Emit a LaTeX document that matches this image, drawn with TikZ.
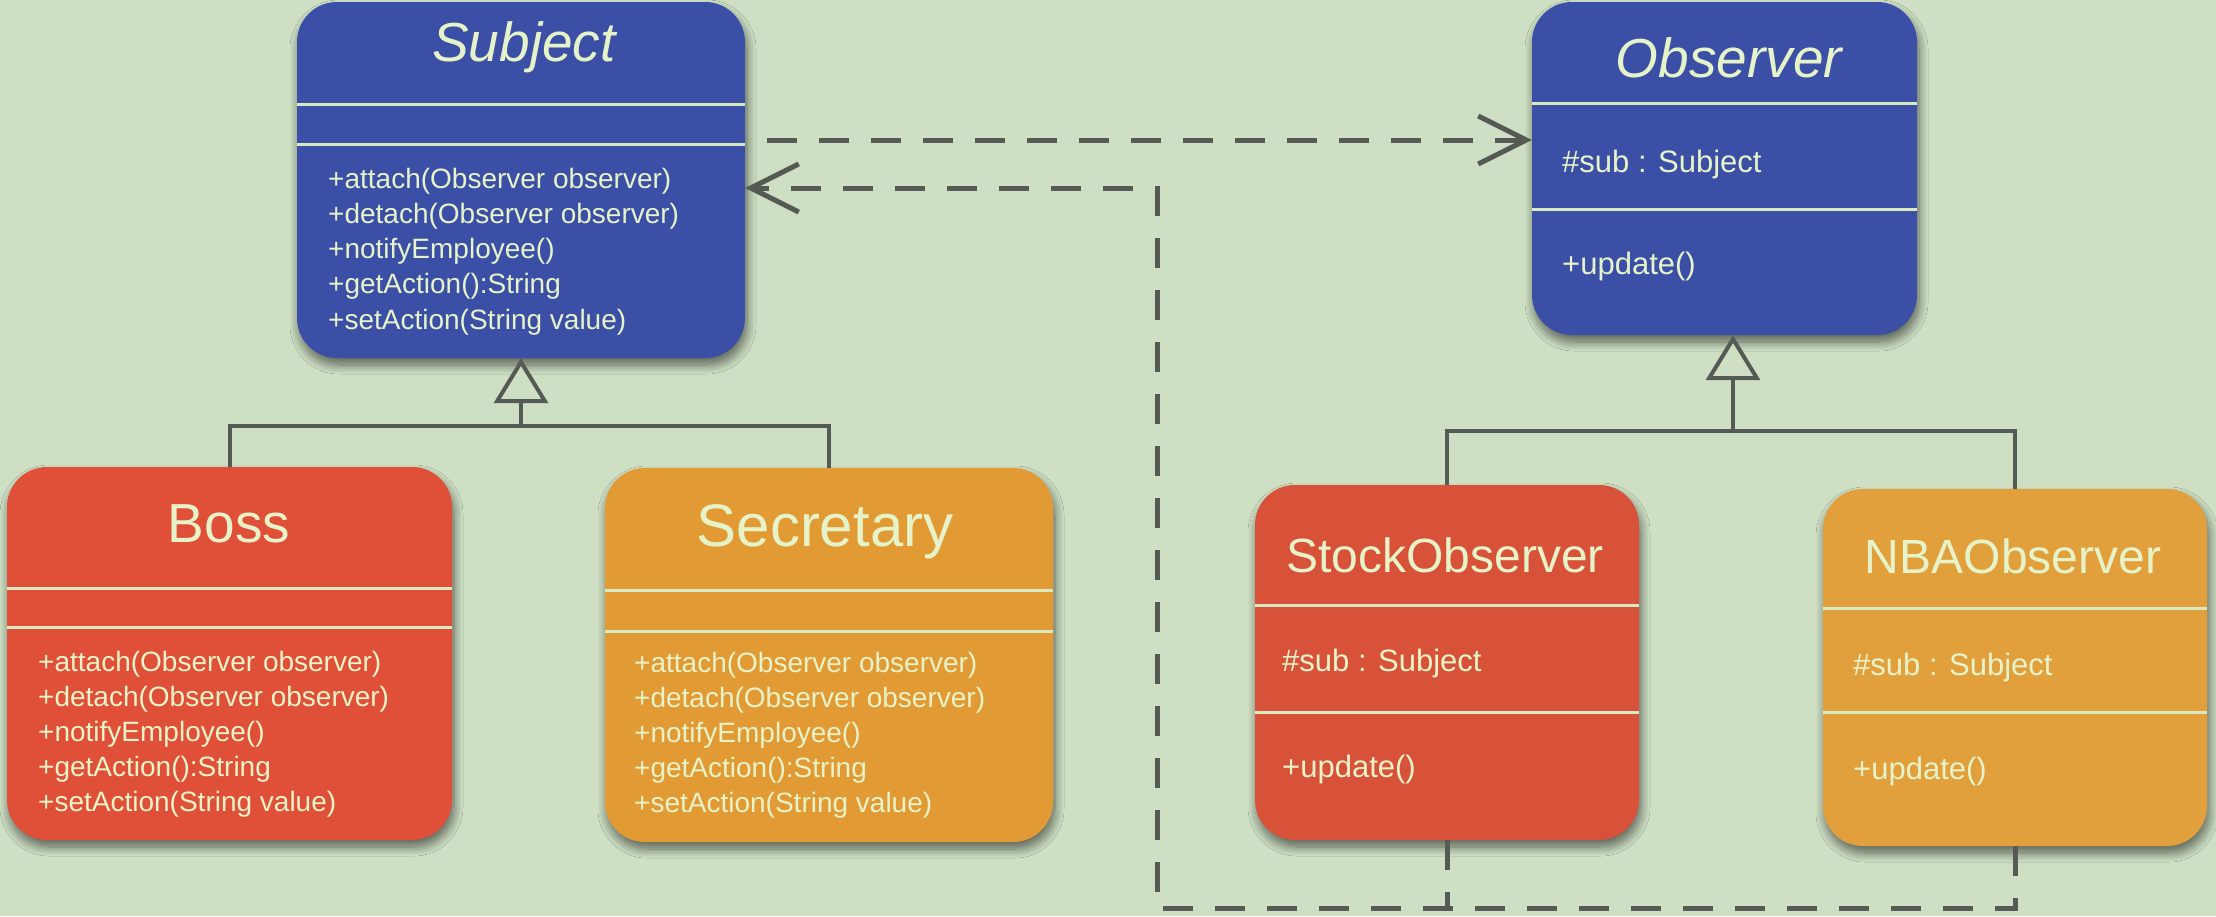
\documentclass[tikz,border=0pt]{standalone}
\usepackage{fontspec}
\setmainfont{Liberation Sans}
\usetikzlibrary{arrows.meta,shadows.blur}
\definecolor{bgc}{RGB}{206,223,196}
\definecolor{blueC}{RGB}{58,79,165}
\definecolor{redC}{RGB}{224,80,56}
\definecolor{redD}{RGB}{216,82,58}
\definecolor{orangeC}{RGB}{226,155,52}
\definecolor{orangeD}{RGB}{225,160,60}
\definecolor{txtc}{RGB}{230,243,200}
\definecolor{divc}{RGB}{218,234,192}
\definecolor{linec}{RGB}{85,90,85}
\begin{document}
\begin{tikzpicture}[x=1pt,y=-1pt,
  classbox/.style={rectangle, rounded corners=40pt, inner sep=0pt,
    blur shadow={shadow xshift=2pt, shadow yshift=-7pt, shadow blur radius=9pt, shadow blur steps=10, shadow opacity=55}},
  divider/.style={draw=divc, line width=3pt},
  titleit/.style={text=txtc, inner sep=0pt, anchor=base, font=\fontsize{55}{60}\selectfont\itshape},
  titleup/.style={text=txtc, inner sep=0pt, anchor=base, font=\fontsize{55}{60}\selectfont},
  titlesm/.style={text=txtc, inner sep=0pt, anchor=base, font=\fontsize{48}{54}\selectfont},
  attr/.style={text=txtc, inner sep=0pt, anchor=base west, font=\fontsize{31}{36}\selectfont},
  meth/.style={text=txtc, inner sep=0pt, anchor=base west, font=\fontsize{28}{34}\selectfont},
  solidline/.style={draw=linec, line width=4pt},
  gentri/.style={solidline, line join=miter, -{Triangle[length=45pt, width=54pt, fill=bgc]}},
  depline/.style={draw=linec, line width=5pt, dash pattern=on 30pt off 22pt},
  deparrow/.style={depline, -{Straight Barb[length=48pt, width=48pt]}}
]
\useasboundingbox (0,0) rectangle (2216,916);
\fill[bgc] (0,0) rectangle (2216,916);

% ---------- class boxes ----------
\node[classbox, fill=blueC, minimum width=448pt, minimum height=356pt] (subject) at (521,180) {};
\node[classbox, fill=blueC, minimum width=385pt, minimum height=333pt] (observer) at (1724.5,168.5) {};
\node[classbox, fill=redC, minimum width=445pt, minimum height=373pt] (boss) at (229.5,653.5) {};
\node[classbox, fill=orangeC, minimum width=448pt, minimum height=374pt] (secretary) at (829,655) {};
\node[classbox, fill=redD, minimum width=384pt, minimum height=355pt] (stock) at (1447,662.5) {};
\node[classbox, fill=orangeD, minimum width=384pt, minimum height=357pt] (nba) at (2015,667.5) {};

% ---------- dividers ----------
\draw[divider] (subject.west |- 0,104) -- (subject.east |- 0,104);
\draw[divider] (subject.west |- 0,144) -- (subject.east |- 0,144);
\draw[divider] (observer.west |- 0,103) -- (observer.east |- 0,103);
\draw[divider] (observer.west |- 0,209) -- (observer.east |- 0,209);
\draw[divider] (boss.west |- 0,588) -- (boss.east |- 0,588);
\draw[divider] (boss.west |- 0,627) -- (boss.east |- 0,627);
\draw[divider] (secretary.west |- 0,590) -- (secretary.east |- 0,590);
\draw[divider] (secretary.west |- 0,631) -- (secretary.east |- 0,631);
\draw[divider] (stock.west |- 0,605) -- (stock.east |- 0,605);
\draw[divider] (stock.west |- 0,712) -- (stock.east |- 0,712);
\draw[divider] (nba.west |- 0,608) -- (nba.east |- 0,608);
\draw[divider] (nba.west |- 0,712) -- (nba.east |- 0,712);

% ---------- titles ----------
\node[titleit] (subject-t) at (524,61) {Subject};
\node[titleit] (observer-t) at (1729,77) {Observer};
\node[titleup] (boss-t) at (229,542) {Boss};
\node[titleup, font=\fontsize{60}{64}\selectfont] (secretary-t) at (825,546) {Secretary};
\node[titlesm] (stock-t) at (1445,572) {StockObserver};
\node[titlesm] (nba-t) at (2013,573) {NBAObserver};

% ---------- Subject methods ----------
\node[meth] (subject-m1) at (328,188) {+attach(Observer observer)};
\node[meth] (subject-m2) at (328,223.3) {+detach(Observer observer)};
\node[meth] (subject-m3) at (328,258.6) {+notifyEmployee()};
\node[meth] (subject-m4) at (328,293.9) {+getAction():String};
\node[meth] (subject-m5) at (328,329.2) {+setAction(String value)};

% ---------- Boss methods ----------
\node[meth] (boss-m1) at (38,671) {+attach(Observer observer)};
\node[meth] (boss-m2) at (38,706) {+detach(Observer observer)};
\node[meth] (boss-m3) at (38,741) {+notifyEmployee()};
\node[meth] (boss-m4) at (38,776) {+getAction():String};
\node[meth] (boss-m5) at (38,811) {+setAction(String value)};

% ---------- Secretary methods ----------
\node[meth] (secretary-m1) at (634,672) {+attach(Observer observer)};
\node[meth] (secretary-m2) at (634,707) {+detach(Observer observer)};
\node[meth] (secretary-m3) at (634,742) {+notifyEmployee()};
\node[meth] (secretary-m4) at (634,777) {+getAction():String};
\node[meth] (secretary-m5) at (634,812) {+setAction(String value)};

% ---------- Observer family ----------
\node[attr] (observer-a) at (1562,172) {\#sub : Subject};
\node[attr] (observer-m) at (1562,274) {+update()};
\node[attr] (stock-a) at (1282,671) {\#sub : Subject};
\node[attr] (stock-m) at (1282,777) {+update()};
\node[attr] (nba-a) at (1853,675) {\#sub : Subject};
\node[attr] (nba-m) at (1853,779) {+update()};

% ---------- generalisation ----------
\coordinate (j1) at (521,426);
\draw[solidline] (boss.north) |- (j1) -| (secretary.north);
\draw[gentri] (j1) -- (subject.south);

\coordinate (j2) at (1733,431);
\draw[solidline] (stock.north) |- (j2) -| (nba.north);
\draw[gentri] (j2) -- (j2 |- observer.south);

% ---------- dependencies ----------
\coordinate (ya) at (0,140);
\coordinate (yb) at (0,188);
\coordinate (c1) at (1157,908);
\draw[deparrow] ([xshift=22pt]subject.east |- ya) -- (observer.west |- ya);
\draw[deparrow] (nba.south) |- (c1) |- (subject.east |- yb);
\draw[depline] (stock.south) -- (stock.south |- c1);
\end{tikzpicture}
\end{document}
